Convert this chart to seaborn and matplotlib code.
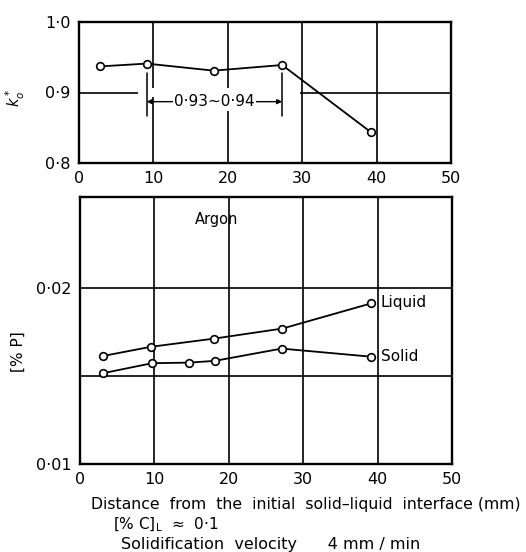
import numpy as np
import pandas as pd
import matplotlib
matplotlib.use("Agg")
import matplotlib.pyplot as plt
from matplotlib.patches import Rectangle
import seaborn as sns

# ---- data ----
k_x = [2.8, 9.1, 18.1, 27.3, 39.2]
k_val = [0.937, 0.941, 0.931, 0.939, 0.844]

liq_x = [3.1, 9.5, 18.05, 27.2, 39.1]
liq_p = [0.01615, 0.01667, 0.01714, 0.01771, 0.01914]

sol_x = [3.1, 9.7, 14.6, 18.1, 27.1, 39.1]
sol_p = [0.01517, 0.01574, 0.01577, 0.01587, 0.01657, 0.01611]

x_ticks = [0, 10, 20, 30, 40, 50]
x_labels = ["0", "10", "20", "30", "40", "50"]
top_yticks = [0.8, 0.9, 1.0]
top_ylabels = ["0·8", "0·9", "1·0"]
bot_yticks = [0.01, 0.015, 0.02]
bot_ylabels = ["0·01", "", "0·02"]

sns.set_theme(style="white")
plt.rcParams['font.family'] = ['DejaVu Sans']
plt.rcParams['text.color'] = 'black'
plt.rcParams['axes.labelcolor'] = 'black'
plt.rcParams['xtick.color'] = 'black'
plt.rcParams['ytick.color'] = 'black'

W, H = 526, 552
fig = plt.figure(figsize=(W / 100, H / 100), dpi=100)


def ax_at(l, t, r, b):
    return fig.add_axes([l / W, 1 - b / H, (r - l) / W, (b - t) / H])


ax1 = ax_at(79, 22, 451, 163)
ax2 = ax_at(80, 197, 452, 464)

line_kw = dict(color="black", linewidth=1.3, marker="o", markersize=5.5,
               markerfacecolor="white", markeredgecolor="black",
               markeredgewidth=1.2)

df_k = pd.DataFrame({"x": k_x, "k": k_val})
df_l = pd.DataFrame({"x": liq_x, "p": liq_p})
df_s = pd.DataFrame({"x": sol_x, "p": sol_p})

sns.lineplot(data=df_k, x="x", y="k", ax=ax1, zorder=5, **line_kw)
sns.lineplot(data=df_l, x="x", y="p", ax=ax2, zorder=5, **line_kw)
sns.lineplot(data=df_s, x="x", y="p", ax=ax2, zorder=5, **line_kw)

for ax in (ax1, ax2):
    ax.set_xlim(0, 50)
    ax.set_xticks(x_ticks)
    ax.set_xticklabels(x_labels)
    ax.set_xlabel("")
    ax.set_ylabel("")
    ax.tick_params(length=0, labelsize=11.5, pad=6, colors="black")
    ax.grid(True, color="black", linewidth=1.2)
    ax.set_axisbelow(True)
    for s in ax.spines.values():
        s.set_color("black")
        s.set_linewidth(1.7)

ax1.set_ylim(0.8, 1.0)
ax1.set_yticks(top_yticks)
ax1.set_yticklabels(top_ylabels)
ax2.set_ylim(0.01, 0.0252)
ax2.set_yticks(bot_yticks)
ax2.set_yticklabels(bot_ylabels)

# annotation 0.93~0.94 range
ax1.add_patch(Rectangle((k_x[1] - 1.2, 0.893), k_x[3] - k_x[1] + 3.6, 0.014,
                        facecolor="white", edgecolor="none", zorder=2))
for xb in (k_x[1], k_x[3]):
    ax1.plot([xb, xb], [0.867, 0.928], color="black", lw=1.1, zorder=3)
ax1.annotate("", xy=(k_x[1], 0.887), xytext=(k_x[3], 0.887),
             arrowprops=dict(arrowstyle="<|-|>", color="black", lw=1.0,
                             mutation_scale=7, shrinkA=0, shrinkB=0), zorder=3)
ax1.text((k_x[1] + k_x[3]) / 2, 0.887, "0·93~0·94", ha="center", va="center",
         fontsize=11, zorder=4,
         bbox=dict(facecolor="white", edgecolor="none", pad=1.0))

# text labels
ax2.text(18.3, 0.0239, "Argon", ha="center", va="center", fontsize=10.5)
ax2.text(40.4, liq_p[-1] + 0.00003, "Liquid", ha="left", va="center", fontsize=11)
ax2.text(40.4, sol_p[-1], "Solid", ha="left", va="center", fontsize=11)

fig.text(15 / W, 1 - 98 / H, "$k_o^*$", rotation=90, ha="center", va="center",
         fontsize=10.5)
fig.text(18 / W, 1 - 352 / H, "[% P]", rotation=90, ha="center", va="center",
         fontsize=11)

fig.text(91 / W, 1 - 505 / H,
         "Distance  from  the  initial  solid–liquid  interface (mm)",
         ha="left", va="center", fontsize=11.3)
fig.text(113 / W, 1 - 525 / H, "[% C]$_{\\mathrm{L}}$  ≈  0·1",
         ha="left", va="center", fontsize=11)
fig.text(121 / W, 1 - 544 / H, "Solidification  velocity      4 mm / min",
         ha="left", va="center", fontsize=11.5)

fig.savefig("out.png", dpi=100, facecolor="white")
